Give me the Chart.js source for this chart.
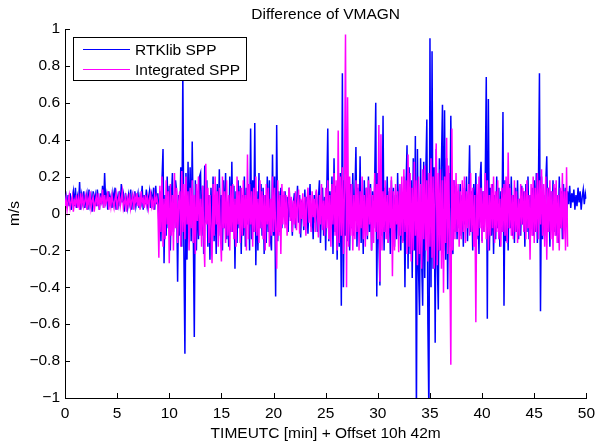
<!DOCTYPE html>
<html>
<head>
<meta charset="utf-8">
<title>Difference of VMAGN</title>
<style>
  html, body { margin: 0; padding: 0; background: #fff; }
  #wrap { width: 601px; height: 445px; position: relative; }
  canvas { display: block; }
</style>
<script src="https://cdn.jsdelivr.net/npm/chart.js@4.4.1/dist/chart.umd.min.js"></script>
</head>
<body>
<div id="wrap"><canvas id="chart" width="601" height="445"></canvas></div>
<script>
const FONT_FAMILY = '"Liberation Sans", Arial, Helvetica, sans-serif';
const FONT_SIZE = 15.5;

const chartTitle = 'Difference of VMAGN';
const xAxisTitle = 'TIMEUTC [min] + Offset 10h 42m';
const yAxisTitle = 'm/s';
const seriesNames = ['RTKlib SPP', 'Integrated SPP'];
const seriesColors = ['#0000ff', '#ff00ff'];

// sample spacing of both series, in minutes
const sampleStepMin = 0.1;

const xTicks = [0, 5, 10, 15, 20, 25, 30, 35, 40, 45, 50];
const yTicks = [-1, -0.8, -0.6, -0.4, -0.2, 0, 0.2, 0.4, 0.6, 0.8, 1];

// velocity magnitude difference, m/s, one row per minute
const rtklibSpp = [
  0.05,0.09,0.03,0.10,0.04,0.11,0.02,0.08,0.12,0.04,
  0.14,0.03,0.09,0.05,0.17,0.02,0.10,0.06,0.12,0.03,
  0.08,0.11,0.02,0.13,0.05,0.09,0.01,0.12,0.06,0.10,
  0.04,0.13,0.07,0.02,0.11,0.05,0.15,0.03,0.22,0.06,
  0.10,0.02,0.12,0.06,0.09,0.03,0.11,0.07,0.14,0.02,
  0.09,0.05,0.12,0.04,0.16,0.06,0.10,0.01,0.11,0.07,
  0.03,0.10,0.06,0.13,0.02,0.09,0.05,0.12,0.04,0.08,
  0.11,0.03,0.09,0.06,0.15,0.02,0.10,0.05,0.13,0.04,
  0.08,0.12,0.03,0.10,0.06,0.14,0.02,0.15,0.05,0.11,
  -0.05,0.12,-0.15,0.18,0.35,-0.27,0.10,-0.12,0.20,-0.08,
  0.15,-0.20,0.08,0.22,-0.10,0.05,0.18,0.12,-0.37,0.10,
  -0.12,0.25,-0.18,0.78,-0.20,-0.76,0.22,-0.25,0.28,-0.10,
  0.25,-0.15,0.39,-0.08,-0.67,0.18,-0.20,0.12,-0.14,0.20,
  0.22,-0.12,0.15,-0.22,0.26,-0.05,0.18,-0.18,0.10,-0.25,
  0.14,-0.10,0.20,-0.15,0.08,-0.22,0.16,-0.06,0.24,-0.12,
  0.10,-0.20,0.18,-0.08,0.22,-0.14,0.06,-0.18,0.20,-0.10,
  0.28,-0.10,0.15,-0.30,0.12,-0.16,0.18,-0.08,0.15,-0.22,
  0.10,-0.12,0.20,-0.18,0.14,-0.06,0.16,-0.20,0.46,-0.14,
  0.18,-0.10,0.49,-0.28,0.12,-0.20,0.22,-0.08,0.16,-0.12,
  0.14,-0.22,0.10,-0.16,0.20,-0.10,0.18,-0.14,-0.20,0.32,
  -0.12,0.20,-0.45,0.48,-0.15,0.12,-0.10,0.14,-0.08,0.10,
  0.02,0.12,-0.06,0.09,-0.10,0.14,-0.02,0.08,-0.12,0.06,
  0.11,-0.08,0.04,0.15,-0.05,0.10,-0.13,0.07,0.02,-0.09,
  0.13,-0.04,0.09,-0.11,0.06,0.16,-0.07,0.03,-0.14,0.10,
  -0.05,0.12,-0.10,0.08,0.18,-0.16,0.05,0.14,-0.12,0.09,
  -0.20,0.10,0.46,-0.15,0.12,-0.08,0.20,-0.22,0.30,-0.10,
  0.15,-0.25,0.12,-0.18,0.22,-0.50,0.76,-0.40,0.18,-0.12,
  0.20,-0.15,0.12,-0.20,0.16,-0.08,0.22,-0.12,0.10,0.36,
  -0.18,0.14,-0.10,0.31,-0.16,0.12,-0.22,0.18,-0.06,0.14,
  -0.14,0.20,-0.10,0.16,-0.20,0.12,-0.08,0.18,0.60,-0.45,
  0.22,-0.15,-0.39,0.16,-0.12,0.53,-0.20,0.14,-0.10,0.20,
  -0.16,0.12,-0.22,0.18,-0.08,0.14,-0.18,0.10,-0.14,0.22,
  -0.12,0.16,-0.20,0.08,-0.15,0.20,-0.40,0.14,0.37,-0.30,
  0.25,-0.22,0.18,-0.35,0.30,-0.20,0.42,-1.10,0.35,-0.30,
  -0.55,0.30,-0.25,-0.50,0.28,-0.35,0.22,0.51,-0.60,-1.10,
  0.95,-0.40,0.88,-0.30,0.25,-0.70,0.35,-0.25,-0.52,0.30,
  -0.20,0.28,0.59,-0.20,0.56,-0.25,0.30,-0.41,0.22,-0.18,
  0.53,-0.12,-0.22,0.18,-0.10,0.15,-0.14,0.12,-0.08,0.16,
  -0.12,0.10,-0.18,0.14,-0.06,0.20,-0.15,0.08,0.37,-0.10,
  0.12,-0.20,0.16,-0.08,0.22,-0.14,0.10,-0.22,0.18,0.28,
  -0.15,0.12,-0.10,0.18,0.74,-0.57,0.62,-0.20,0.14,-0.12,
  0.16,-0.22,0.10,-0.14,0.20,-0.08,0.14,-0.18,0.12,-0.10,
  0.55,-0.50,0.18,-0.15,0.12,-0.20,0.16,-0.08,0.20,-0.12,
  0.10,-0.16,0.14,-0.10,0.18,-0.14,0.08,-0.12,0.15,-0.06,
  0.12,-0.18,0.16,-0.10,0.20,-0.14,0.10,-0.08,0.14,-0.12,
  0.18,-0.10,0.22,-0.16,0.12,0.76,-0.53,0.20,-0.14,0.10,
  -0.12,0.16,0.31,-0.10,0.14,-0.18,0.12,-0.06,0.18,-0.10,
  0.14,-0.12,0.10,-0.16,0.20,-0.08,0.12,-0.14,0.16,-0.04,
  0.14,-0.02,0.12,0.05,0.15,0.03,0.11,0.06,0.13,0.02,
  0.10,0.04,0.14,0.06,0.12,0.02,0.09,0.13,0.05,0.11,
  0.08
];

const integratedSpp = [
  0.04,0.08,0.02,0.07,0.10,0.03,0.06,0.09,0.01,0.07,
  0.05,0.10,0.03,0.08,0.02,0.11,0.05,0.09,0.04,0.07,
  0.10,0.02,0.08,0.05,0.12,0.03,0.07,0.09,0.01,0.06,
  0.09,0.04,0.11,0.02,0.08,0.06,0.13,0.03,0.10,0.05,
  0.07,0.12,0.02,0.09,0.04,0.10,0.06,0.03,0.08,0.11,
  0.02,0.07,0.10,0.04,0.08,0.12,0.03,0.06,0.09,0.01,
  0.08,0.05,0.11,0.03,0.07,0.10,0.02,0.09,0.06,0.11,
  0.04,0.09,0.02,0.12,0.06,0.08,0.03,0.10,0.05,0.09,
  0.03,0.08,0.11,0.04,0.07,0.02,0.10,0.06,0.09,0.05,
  -0.24,0.15,-0.10,0.20,-0.18,0.08,-0.14,0.18,-0.06,0.12,
  -0.27,0.16,-0.12,0.10,-0.20,0.22,-0.08,0.14,-0.16,0.06,
  0.12,-0.18,0.23,-0.10,0.16,-0.14,0.20,-0.06,0.12,-0.20,
  0.14,-0.08,0.18,-0.16,0.10,-0.22,0.16,-0.04,0.20,-0.12,
  0.08,-0.18,0.15,-0.10,-0.29,0.27,-0.06,0.14,-0.16,0.10,
  -0.08,-0.27,0.16,-0.12,0.20,-0.06,0.12,-0.18,0.14,-0.10,
  -0.26,0.20,-0.08,0.12,-0.16,0.18,-0.12,0.10,-0.20,0.15,
  -0.10,0.16,-0.14,0.08,-0.18,0.20,-0.06,0.12,-0.16,0.14,
  -0.12,0.18,-0.08,0.10,-0.20,0.32,-0.14,0.16,-0.06,0.12,
  -0.18,0.14,-0.10,0.20,-0.12,0.08,-0.16,0.18,-0.08,0.12,
  -0.14,0.10,-0.20,0.16,-0.06,0.14,-0.18,0.08,-0.12,0.20,
  -0.10,0.14,-0.08,-0.30,0.18,-0.12,0.10,-0.22,0.16,-0.06,
  0.12,-0.08,0.10,-0.12,0.06,0.14,-0.04,0.09,-0.10,0.07,
  -0.06,0.12,-0.09,0.05,0.13,-0.11,0.08,-0.03,0.11,-0.07,
  0.09,-0.12,0.06,0.14,-0.05,0.10,-0.10,0.12,-0.02,0.08,
  -0.10,0.13,0.04,-0.13,0.10,-0.06,0.16,-0.09,0.07,-0.12,
  0.14,-0.08,0.18,-0.14,0.10,-0.18,0.16,-0.06,0.22,-0.12,
  0.18,-0.20,0.45,-0.16,0.20,-0.12,0.25,-0.22,0.14,0.97,
  -0.40,0.63,-0.18,0.20,-0.12,0.16,-0.20,0.10,-0.14,0.18,
  -0.10,0.16,-0.20,0.12,-0.08,0.20,-0.14,0.10,-0.18,0.14,
  -0.12,0.18,-0.06,0.14,-0.20,0.10,-0.16,0.22,-0.10,0.16,
  -0.14,0.48,-0.37,0.43,-0.20,0.12,-0.10,0.18,-0.14,0.10,
  -0.16,0.14,-0.08,0.20,-0.34,0.12,-0.20,0.16,-0.06,0.12,
  -0.21,0.16,-0.12,0.20,-0.16,0.24,-0.10,0.18,-0.22,0.32,
  -0.18,0.22,-0.26,0.14,-0.20,0.28,-0.12,0.18,-0.28,0.20,
  -0.22,0.16,-0.30,0.24,-0.14,0.26,-0.20,0.18,-0.26,0.22,
  -0.18,0.30,-0.24,0.20,-0.30,0.16,0.38,-0.28,0.22,-0.20,
  0.24,-0.30,0.18,-0.43,0.20,-0.16,0.41,-0.22,0.26,-0.18,
  -0.82,0.46,-0.20,0.18,-0.14,0.22,-0.10,0.16,-0.18,0.12,
  -0.14,0.18,-0.10,0.20,-0.16,0.12,-0.08,0.16,-0.12,0.22,
  -0.10,0.14,-0.18,0.10,-0.59,0.16,-0.12,0.20,-0.08,0.14,
  -0.16,0.12,-0.10,0.22,-0.14,0.18,-0.20,0.10,-0.12,0.16,
  -0.08,0.20,-0.16,0.12,-0.10,0.18,-0.14,0.08,-0.18,0.14,
  -0.10,0.16,-0.12,0.20,-0.16,0.33,-0.08,0.14,-0.12,0.10,
  -0.14,0.18,-0.10,0.12,-0.16,0.08,-0.12,0.16,-0.06,0.14,
  -0.10,0.12,-0.14,0.18,-0.08,0.10,-0.25,0.16,-0.12,0.20,
  -0.16,0.14,-0.10,0.22,-0.14,0.18,-0.06,0.24,-0.12,0.16,
  -0.18,0.20,-0.25,0.14,-0.10,0.18,-0.14,0.12,-0.20,0.16,
  -0.12,0.18,-0.16,0.10,-0.20,0.14,-0.08,0.22,-0.14,0.12,
  -0.20,0.25,-0.18
];

function toPoints(values) {
  return values.map((v, i) => ({ x: Math.round(i * sampleStepMin * 10) / 10, y: v }));
}

function formatTick(v) {
  const r = Math.round(v * 10) / 10;
  return String(r).replace('-', '\u2212');
}

const font = { family: FONT_FAMILY, size: FONT_SIZE };

// axis decorations, legend box and titles
const decorations = {
  id: 'decorations',
  afterDatasetsDraw(chart) {
    const { ctx, chartArea: a, scales: { x, y } } = chart;
    ctx.save();

    // inward tick marks
    ctx.strokeStyle = '#000';
    ctx.lineWidth = 1;
    ctx.beginPath();
    xTicks.forEach(v => {
      const px = Math.round(x.getPixelForValue(v)) + 0.5;
      ctx.moveTo(px, a.bottom);
      ctx.lineTo(px, a.bottom - 5);
    });
    yTicks.forEach(v => {
      const py = Math.round(y.getPixelForValue(v)) + 0.5;
      ctx.moveTo(a.left, py);
      ctx.lineTo(a.left + 5, py);
    });
    ctx.stroke();

    // legend
    const lx = a.left + 8, ly = a.top + 8, lw = 174, lh = 44;
    ctx.fillStyle = '#fff';
    ctx.fillRect(lx, ly, lw, lh);
    ctx.strokeStyle = '#000';
    ctx.strokeRect(lx + 0.5, ly + 0.5, lw - 1, lh - 1);
    ctx.font = `${FONT_SIZE}px ${FONT_FAMILY}`;
    ctx.textAlign = 'left';
    ctx.textBaseline = 'alphabetic';
    seriesNames.forEach((name, i) => {
      const rowY = ly + 12.5 + i * 20;
      ctx.strokeStyle = seriesColors[i];
      ctx.beginPath();
      ctx.moveTo(lx + 10, rowY);
      ctx.lineTo(lx + 57, rowY);
      ctx.stroke();
      ctx.fillStyle = '#000';
      ctx.fillText(name, lx + 62, rowY + 5.5);
    });

    // titles
    const cx = (a.left + a.right) / 2;
    ctx.fillStyle = '#000';
    ctx.textAlign = 'center';
    ctx.fillText(chartTitle, cx, 18.5);
    ctx.fillText(xAxisTitle, cx, 438);
    ctx.translate(15, (a.top + a.bottom) / 2);
    ctx.rotate(-Math.PI / 2);
    ctx.textBaseline = 'middle';
    ctx.fillText(yAxisTitle, 0, 0);

    ctx.restore();
  }
};

new Chart(document.getElementById('chart'), {
  type: 'line',
  data: {
    datasets: [
      {
        label: seriesNames[0],
        data: toPoints(rtklibSpp),
        borderColor: seriesColors[0],
        borderWidth: 1.5,
        pointRadius: 0,
        tension: 0,
        fill: false,
        order: 1
      },
      {
        label: seriesNames[1],
        data: toPoints(integratedSpp),
        borderColor: seriesColors[1],
        borderWidth: 1.5,
        pointRadius: 0,
        tension: 0,
        fill: false,
        order: 0
      }
    ]
  },
  options: {
    responsive: false,
    animation: false,
    devicePixelRatio: 1,
    layout: { padding: { top: 29, right: 8, bottom: 0, left: 0 } },
    plugins: {
      legend: { display: false },
      title: { display: false },
      tooltip: { enabled: false }
    },
    events: [],
    scales: {
      x: {
        type: 'linear',
        min: 0,
        max: 50,
        afterBuildTicks: s => { s.ticks = xTicks.map(v => ({ value: v })); },
        afterFit: s => { s.height = 47; },
        ticks: { font, color: '#000', padding: 6, maxRotation: 0, autoSkip: false, callback: v => formatTick(v) },
        grid: { display: true, drawOnChartArea: false, drawTicks: false },
        border: { display: true, color: '#000', width: 1 }
      },
      y: {
        type: 'linear',
        min: -1,
        max: 1,
        afterBuildTicks: s => { s.ticks = yTicks.map(v => ({ value: v })); },
        afterFit: s => { s.width = 65; },
        ticks: { font, color: '#000', padding: 5, autoSkip: false, callback: v => formatTick(v) },
        grid: { display: true, drawOnChartArea: false, drawTicks: false },
        border: { display: true, color: '#000', width: 1 }
      }
    }
  },
  plugins: [decorations]
});
</script>
</body>
</html>
